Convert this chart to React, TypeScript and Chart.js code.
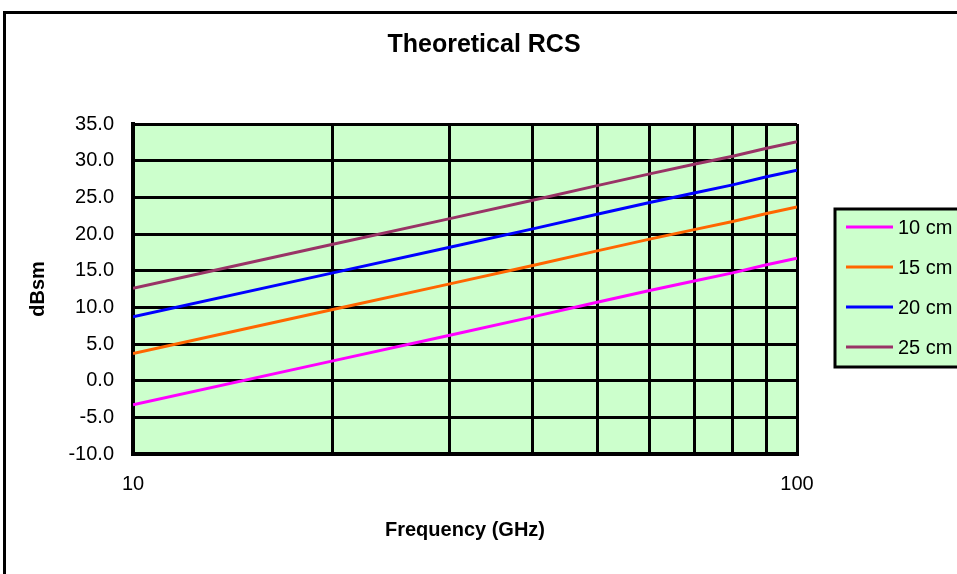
import React, { useEffect, useRef } from "react";
import { Chart, registerables } from "chart.js";

Chart.register(...registerables);

const frequencies = [10, 20, 30, 40, 50, 60, 70, 80, 90, 100];
const rcs10cm = [-3.3, 2.7, 6.2, 8.7, 10.7, 12.3, 13.6, 14.7, 15.8, 16.7];
const rcs15cm = [3.7, 9.7, 13.2, 15.7, 17.7, 19.3, 20.6, 21.7, 22.8, 23.7];
const rcs20cm = [8.7, 14.7, 18.2, 20.7, 22.7, 24.3, 25.6, 26.7, 27.8, 28.7];
const rcs25cm = [12.6, 18.6, 22.1, 24.6, 26.6, 28.2, 29.5, 30.6, 31.7, 32.6];
const seriesLabels = ["10 cm", "15 cm", "20 cm", "25 cm"];
const seriesColors = ["#FF00FF", "#FF6600", "#0000FF", "#993366"];
const xTickValues = [10, 20, 30, 40, 50, 60, 70, 80, 90, 100];
const xLabeledTicks = [10, 100];

const FONT = "'Liberation Sans', Arial, sans-serif";
const PLOT_BG = "#CCFFCC";

const backgroundPlugin = {
  id: "bgPlugin",
  beforeDraw(chart: any) {
    const { ctx, chartArea, width, height } = chart;
    ctx.save();
    ctx.fillStyle = "#FFFFFF";
    ctx.fillRect(0, 0, width, height);
    ctx.lineWidth = 3;
    ctx.strokeStyle = "#000000";
    ctx.strokeRect(4.5, 12.5, width + 20, height + 20);
    ctx.fillStyle = PLOT_BG;
    ctx.fillRect(chartArea.left, chartArea.top, chartArea.right - chartArea.left, chartArea.bottom - chartArea.top);
    ctx.restore();
  },
};

const legendBoxPlugin = {
  id: "legendBox",
  afterDraw(chart: any) {
    const { ctx } = chart;
    const left = 835;
    const top = 209;
    const bottom = 367;
    ctx.save();
    ctx.fillStyle = PLOT_BG;
    ctx.fillRect(left, top, 200, bottom - top);
    ctx.lineWidth = 3;
    ctx.strokeStyle = "#000000";
    ctx.strokeRect(left, top, 200, bottom - top);
    const rowYs = [227, 267, 307, 347];
    chart.data.datasets.forEach((ds: any, i: number) => {
      const y = rowYs[i];
      ctx.strokeStyle = ds.borderColor;
      ctx.lineWidth = 3;
      ctx.beginPath();
      ctx.moveTo(846, y);
      ctx.lineTo(893, y);
      ctx.stroke();
      ctx.fillStyle = "#000000";
      ctx.font = `20px ${FONT}`;
      ctx.textBaseline = "middle";
      ctx.textAlign = "left";
      ctx.fillText(ds.label, 898, y + 1);
    });
    ctx.restore();
  },
};

export default function App() {
  const canvasRef = useRef<HTMLCanvasElement | null>(null);

  useEffect(() => {
    if (!canvasRef.current) return;
    const seriesValues = [rcs10cm, rcs15cm, rcs20cm, rcs25cm];
    const chart = new Chart(canvasRef.current, {
      type: "line",
      data: {
        datasets: seriesValues.map((vals, i) => ({
          label: seriesLabels[i],
          data: frequencies.map((f, j) => ({ x: f, y: vals[j] })),
          borderColor: seriesColors[i],
          backgroundColor: seriesColors[i],
          borderWidth: 3,
          pointRadius: 0,
          tension: 0,
        })),
      },
      options: {
        responsive: false,
        animation: false,
        devicePixelRatio: 1,
        layout: { padding: { top: 0, left: 0, right: 0, bottom: 0 } },
        plugins: {
          legend: { display: false },
          tooltip: { enabled: false },
          title: {
            display: true,
            text: "Theoretical RCS",
            color: "#000000",
            font: { family: FONT, size: 25, weight: "bold", lineHeight: 1.2 },
            padding: { top: 30, bottom: 64 },
          },
        },
        scales: {
          x: {
            type: "logarithmic",
            min: 10,
            max: 100,
            afterBuildTicks: (scale: any) => {
              scale.ticks = xTickValues.map((v) => ({ value: v }));
            },
            afterFit: (scale: any) => {
              scale.height = 120;
            },
            ticks: {
              autoSkip: false,
              maxRotation: 0,
              color: "#000000",
              padding: 18,
              font: { family: FONT, size: 20 },
              callback: (value: any) => (xLabeledTicks.includes(Number(value)) ? String(value) : ""),
            },
            grid: { color: "#000000", lineWidth: 3, drawTicks: false },
            border: { display: true, color: "#000000", width: 4 },
            title: {
              display: true,
              text: "Frequency (GHz)",
              color: "#000000",
              font: { family: FONT, size: 20, weight: "bold", lineHeight: 1.2 },
              padding: { top: 0, bottom: 32 },
            },
          },
          y: {
            type: "linear",
            min: -10,
            max: 35,
            afterFit: (scale: any) => {
              scale.width = 133;
            },
            ticks: {
              stepSize: 5,
              color: "#000000",
              padding: 19,
              font: { family: FONT, size: 20 },
              callback: (value: any) => Number(value).toFixed(1),
            },
            grid: { color: "#000000", lineWidth: 3, drawTicks: false },
            border: { display: true, color: "#000000", width: 4 },
            title: {
              display: true,
              text: "dBsm",
              color: "#000000",
              font: { family: FONT, size: 20, weight: "bold", lineHeight: 1.2 },
              padding: { top: 26, bottom: 0 },
            },
          },
          legendSpace: {
            type: "linear",
            position: "right",
            min: -10,
            max: 35,
            afterFit: (scale: any) => {
              scale.width = 171;
            },
            ticks: { display: false },
            grid: { display: false, drawTicks: false },
            border: { display: false },
          },
        },
      },
      plugins: [backgroundPlugin, legendBoxPlugin],
    });
    return () => chart.destroy();
  }, []);

  return (
    <div style={{ position: "absolute", left: 0, top: 0, width: 957, height: 574, overflow: "hidden", background: "#fff" }}>
      <canvas ref={canvasRef} width={968} height={574} style={{ width: 968, height: 574, display: "block" }} />
    </div>
  );
}
